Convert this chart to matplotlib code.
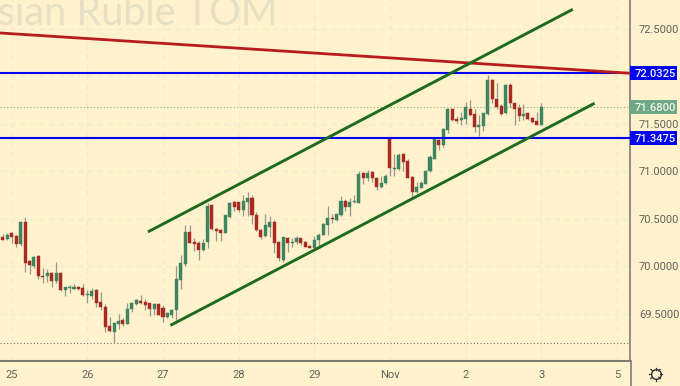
import numpy as np
import matplotlib
matplotlib.use("Agg")
import matplotlib.pyplot as plt
from matplotlib.lines import Line2D
from matplotlib.patches import Rectangle

opens = [70.307, 70.289, 70.352, 70.324, 70.233, 70.472, 70.054, 70.000, 70.110, 69.900,
         69.903, 69.928, 69.843, 69.935, 69.752, 69.770, 69.766, 69.787, 69.770, 69.696,
         69.693, 69.752, 69.629, 69.573, 69.373, 69.314, 69.391, 69.436, 69.398, 69.556,
         69.601, 69.637, 69.629, 69.612, 69.556, 69.605, 69.566, 69.472, 69.493, 69.542,
         69.854, 70.026, 70.359, 70.261, 70.251, 70.177, 70.254, 70.648, 70.392, 70.385,
         70.356, 70.525, 70.676, 70.676, 70.599, 70.679, 70.725, 70.539, 70.385, 70.325,
         70.416, 70.472, 70.258, 70.069, 70.300, 70.248, 70.255, 70.297, 70.258, 70.213,
         70.195, 70.279, 70.332, 70.437, 70.507, 70.490, 70.542, 70.693, 70.630, 70.679,
         70.672, 70.981, 70.928, 70.992, 70.935, 70.837, 70.876, 71.339, 71.030, 71.027,
         71.184, 71.111, 70.946, 70.788, 70.830, 70.872, 71.002, 71.135, 71.335, 71.279,
         71.437, 71.655, 71.549, 71.542, 71.553, 71.658, 71.602, 71.465, 71.483, 71.602,
         71.963, 71.767, 71.693, 71.613, 71.907, 71.718, 71.669, 71.585, 71.613, 71.563,
         71.528, 71.493]
highs = [70.342, 70.349, 70.359, 70.331, 70.479, 70.517, 70.068, 70.114, 70.117, 69.980,
         69.970, 69.945, 70.047, 69.945, 69.787, 69.805, 69.815, 69.794, 69.812, 69.752,
         69.777, 69.766, 69.731, 69.601, 69.472, 69.415, 69.500, 69.454, 69.612, 69.629,
         69.661, 69.696, 69.654, 69.619, 69.612, 69.612, 69.594, 69.524, 69.549, 70.005,
         70.121, 70.437, 70.437, 70.296, 70.268, 70.286, 70.672, 70.655, 70.402, 70.392,
         70.542, 70.676, 70.690, 70.683, 70.753, 70.781, 70.753, 70.574, 70.392, 70.553,
         70.532, 70.490, 70.265, 70.307, 70.307, 70.297, 70.321, 70.304, 70.265, 70.227,
         70.321, 70.349, 70.455, 70.637, 70.553, 70.567, 70.746, 70.707, 70.718, 70.756,
         71.006, 70.992, 71.016, 71.002, 70.942, 70.953, 70.971, 71.349, 71.181, 71.191,
         71.198, 71.128, 70.953, 70.893, 70.904, 71.016, 71.174, 71.349, 71.342, 71.455,
         71.665, 71.665, 71.584, 71.627, 71.735, 71.753, 71.658, 71.595, 71.620, 72.016,
         71.970, 71.935, 71.711, 71.921, 71.935, 71.725, 71.707, 71.707, 71.620, 71.570,
         71.623, 71.718]
lows = [70.279, 70.279, 70.244, 70.201, 70.219, 69.938, 69.921, 69.980, 69.872, 69.830,
        69.840, 69.780, 69.822, 69.745, 69.689, 69.724, 69.759, 69.752, 69.689, 69.612,
        69.654, 69.570, 69.542, 69.310, 69.307, 69.198, 69.345, 69.373, 69.391, 69.524,
        69.591, 69.601, 69.542, 69.482, 69.489, 69.486, 69.412, 69.454, 69.454, 69.436,
        69.763, 70.005, 70.244, 70.159, 70.068, 70.166, 70.198, 70.385, 70.272, 70.269,
        70.353, 70.511, 70.588, 70.578, 70.528, 70.532, 70.448, 70.378, 70.286, 70.314,
        70.314, 70.146, 70.062, 70.051, 70.156, 70.209, 70.234, 70.227, 70.202, 70.192,
        70.192, 70.216, 70.328, 70.332, 70.462, 70.483, 70.535, 70.588, 70.535, 70.672,
        70.672, 70.869, 70.904, 70.893, 70.806, 70.830, 70.865, 70.953, 70.956, 71.016,
        71.000, 70.928, 70.728, 70.770, 70.823, 70.869, 70.995, 71.132, 71.227, 71.255,
        71.402, 71.532, 71.507, 71.490, 71.500, 71.584, 71.420, 71.374, 71.427, 71.595,
        71.718, 71.662, 71.595, 71.606, 71.683, 71.486, 71.535, 71.542, 71.542, 71.514,
        71.490, 71.490]
closes = [70.282, 70.331, 70.310, 70.237, 70.472, 70.040, 70.012, 70.103, 69.903, 69.893,
          69.935, 69.847, 69.928, 69.752, 69.780, 69.784, 69.787, 69.759, 69.696, 69.707,
          69.742, 69.612, 69.577, 69.366, 69.317, 69.401, 69.426, 69.394, 69.556, 69.612,
          69.644, 69.612, 69.594, 69.549, 69.601, 69.493, 69.472, 69.510, 69.538, 69.865,
          70.037, 70.363, 70.251, 70.233, 70.177, 70.251, 70.640, 70.392, 70.374, 70.353,
          70.542, 70.669, 70.630, 70.595, 70.686, 70.725, 70.539, 70.385, 70.314, 70.437,
          70.465, 70.251, 70.086, 70.307, 70.244, 70.258, 70.304, 70.251, 70.209, 70.195,
          70.279, 70.335, 70.444, 70.511, 70.497, 70.549, 70.693, 70.630, 70.679, 70.686,
          70.974, 70.928, 70.985, 70.932, 70.841, 70.879, 70.953, 71.034, 71.037, 71.177,
          71.097, 70.935, 70.788, 70.837, 70.879, 71.009, 71.153, 71.342, 71.279, 71.448,
          71.658, 71.539, 71.528, 71.563, 71.679, 71.595, 71.465, 71.490, 71.613, 71.963,
          71.763, 71.676, 71.606, 71.907, 71.718, 71.662, 71.585, 71.602, 71.553, 71.521,
          71.493, 71.683]

day_ticks = [2, 19, 36, 53, 70, 87, 104, 121, 138]
day_labels = ["25", "26", "27", "28", "29", "Nov", "2", "3", "5"]
price_ticks = [72.5, 72.0, 71.5, 71.0, 70.5, 70.0, 69.5]
price_labels = ["72.5000", "", "71.5000", "71.0000", "70.5000", "70.0000", "69.5000"]

level_high = 72.0325
level_low = 71.3475
last_price = 71.68
period_low = 69.198

channel_upper = ([32.9, 127.8], [70.371, 72.70])
channel_lower = ([37.95, 132.7], [69.387, 71.711])
red_trend = ([-0.63, 140.94], [72.458, 72.034])

BG = "#FFF2CC"
GRID = "#F0EAD4"
UP = "#3C8560"
DOWN = "#A82A22"
WICK = "#97978C"
AXIS = "#7C7D75"
TEXT = "#62625C"
plt.rcParams["font.family"] = "Roboto"

fig = plt.figure(figsize=(6.8, 3.86), dpi=100, facecolor=BG)
ax = fig.add_axes([0, 25 / 386, 630 / 680, 361 / 386], facecolor=BG)
ax.set_xlim(-0.63, 140.94)
ax.set_ylim(69.005, 72.805)

# watermark, cut off by the left edge like the original
ax.text(278 / 630, 72.5 - (25 - 29) / 95, "US Dollar/Russian Ruble TOM", transform=ax.get_yaxis_transform(),
        ha="right", va="baseline", fontsize=28.5, family="Lato", color="#E7E0C4", zorder=0)

ax.grid(True, color=GRID, linestyle=(0, (4, 3)), linewidth=1.0)
ax.set_axisbelow(True)
ax.set_xticks(day_ticks)
ax.set_xticklabels(day_labels)
ax.set_yticks(price_ticks)
ax.set_yticklabels(price_labels)
ax.yaxis.tick_right()
ax.tick_params(axis="both", length=0, labelsize=8, labelcolor=TEXT)
ax.tick_params(axis="y", pad=6.5)
ax.tick_params(axis="x", pad=6.5)
for name in ["top", "left"]:
    ax.spines[name].set_visible(False)
ax.spines["right"].set_color(AXIS)
ax.spines["right"].set_linewidth(1.2)
ax.spines["bottom"].set_color(AXIS)
ax.spines["bottom"].set_linewidth(1.5)

ax.axhline(last_price, color="#7FB08A", linestyle=(0, (1, 2)), linewidth=0.8, zorder=1)
ax.axhline(period_low, color="#6E6E6E", linestyle=(0, (1, 2)), linewidth=0.8, zorder=1)

xs = np.arange(len(opens))
o = np.array(opens)
c = np.array(closes)
colors = [UP if cl >= op else DOWN for op, cl in zip(o, c)]
ax.vlines(xs, lows, highs, color=WICK, linewidth=0.9, zorder=2)
ax.bar(xs, np.maximum(np.abs(c - o), 0.008), bottom=np.minimum(o, c), width=0.68,
       color=colors, edgecolor=colors, linewidth=0.3, zorder=3)

ax.axhline(level_high, color="#0000F0", linewidth=1.5, zorder=4)
ax.axhline(level_low, color="#0000F0", linewidth=1.5, zorder=4)
ax.plot(*red_trend, color="#B81C1C", linewidth=2.0, zorder=5, solid_capstyle="butt")
ax.plot(*channel_upper, color="#1D6B1F", linewidth=2.1, zorder=5)
ax.plot(*channel_lower, color="#1D6B1F", linewidth=2.1, zorder=5)

# price labels on the right scale
trans = ax.get_yaxis_transform()
for value, face, txt_color in [(level_high, "#0000F5", "#F4F4FF"),
                               (level_low, "#0000F5", "#F4F4FF"),
                               (last_price, "#6FA888", "#F2F5E6")]:
    ax.add_patch(Rectangle((1.0, value - 0.074), 47 / 630, 0.148, transform=trans,
                           facecolor=face, edgecolor="none", clip_on=False, zorder=6))
    ax.text(1 + 25 / 630, value, f"{value:.4f}", transform=trans, ha="center", va="center_baseline",
            color=txt_color, fontsize=8, fontweight="medium", clip_on=False, zorder=7)

# right scale line runs down to the bottom of the picture
fig.add_artist(Line2D([630.5 / 680, 630.5 / 680], [0, 25 / 386], color=AXIS, linewidth=1.2))

# settings icon
cx, cy = 655.5 / 680, (386 - 374) / 386
fig.add_artist(Line2D([cx], [cy], marker="o", markersize=7, markerfacecolor="none",
                      markeredgecolor="#333333", markeredgewidth=1.0))
for ang in np.arange(0, 360, 45):
    dx, dy = np.cos(np.radians(ang)), np.sin(np.radians(ang))
    fig.add_artist(Line2D([cx + 4.5 * dx / 680, cx + 6.5 * dx / 680], [cy + 4.5 * dy / 386, cy + 6.5 * dy / 386],
                          color="#333333", linewidth=0.9))

fig.savefig("out.png", dpi=100, facecolor=BG)
